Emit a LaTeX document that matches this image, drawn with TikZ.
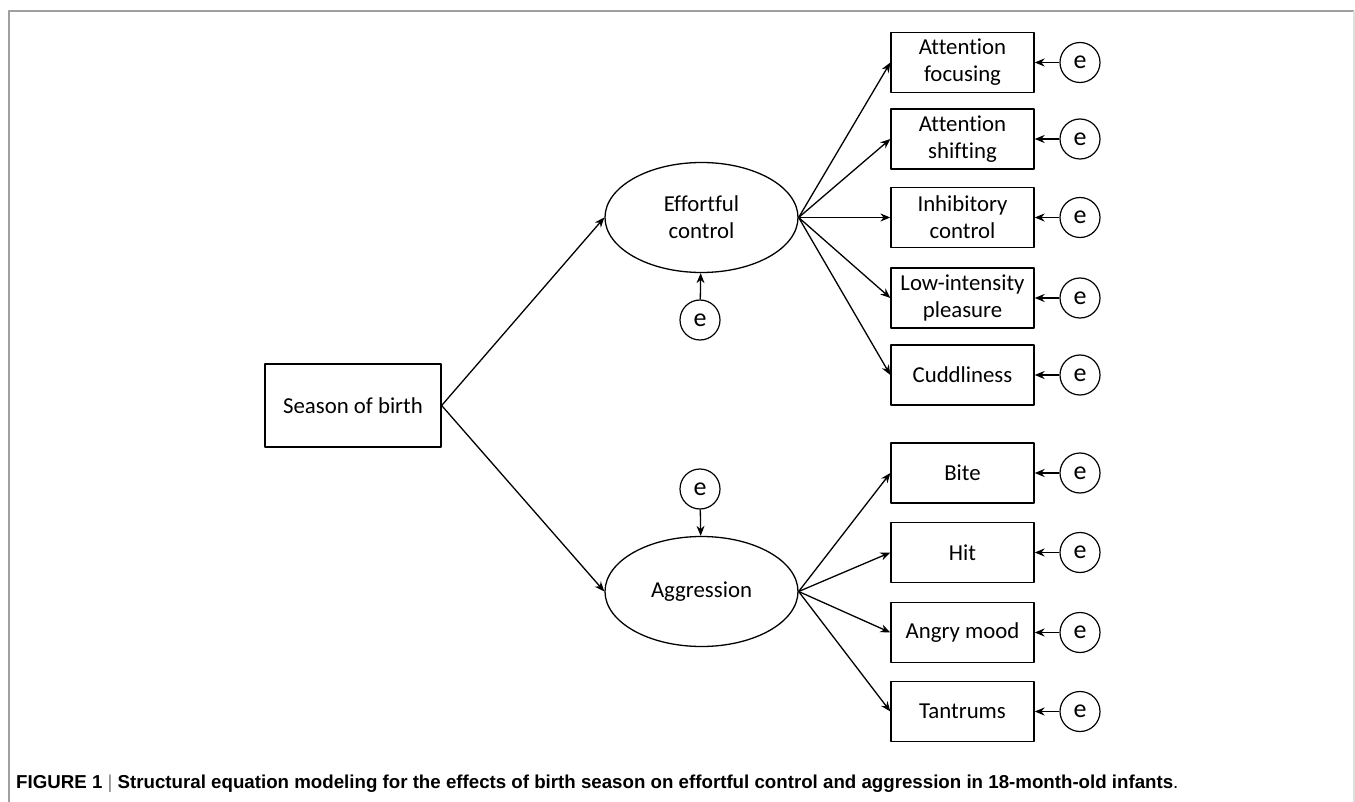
\documentclass[tikz,border=0pt]{standalone}
\usepackage{fontspec}
\setmainfont{Carlito}[Ligatures=NoCommon]
\newfontfamily\capfont{Liberation Sans}
\usetikzlibrary{shapes.geometric,arrows.meta}
\tikzset{
  box/.style={draw, line width=1.3pt, minimum width=143pt, minimum height=60pt, inner sep=0pt, align=center, font=\fontsize{22.8}{27}\selectfont},
  latent/.style={draw, ellipse, line width=1.3pt, minimum width=193pt, minimum height=110pt, inner sep=0pt, align=center, font=\fontsize{22.8}{27}\selectfont},
  err/.style={draw, circle, line width=1.2pt, minimum size=40pt, inner sep=0pt, font=\fontsize{26}{28}\selectfont},
  path/.style={-{Stealth[length=10pt,width=8pt]}, line width=1.3pt}
}
\begin{document}
\begin{tikzpicture}[x=1pt, y=-1pt, line join=round]
\useasboundingbox (0,0) rectangle (1355,802);
% frame
\draw[gray!75, line width=1.5pt] (9,802) -- (9,11) -- (1354,11);
\draw[gray!25, line width=1.5pt] (1354,11) -- (1354,802);
% exogenous and latent variables
\node[box, minimum width=176pt, minimum height=83pt] (sob) at (353,405.5) {Season of birth};
\node[latent] (efc) at (701.5,217.5) {Effortful\\control};
\node[latent] (agg) at (701.5,591.5) {Aggression};
\node[err] (eefc) at (700,320) {e};
\node[err] (eagg) at (700,489) {e};
\draw[path] (sob.east) -- (efc.west);
\draw[path] (sob.east) -- (agg.west);
\draw[path] (eefc) -- (efc);
\draw[path] (eagg) -- (agg);
% indicators of effortful control
\foreach \y/\t [count=\i] in {62.5/{Attention\\focusing}, 139/{Attention\\shifting}, 217.5/{Inhibitory\\control}, 298/{Low-intensity\\pleasure}, 375/{Cuddliness}} {
  \node[box] (ec\i) at (962.5,\y) {\t};
  \node[err] (eec\i) at (1080,\y) {e};
  \draw[path] (efc.east) -- (ec\i.west);
  \draw[path] (eec\i) -- (ec\i);
}
% indicators of aggression
\foreach \y/\t [count=\i] in {473/{Bite}, 552.5/{Hit}, 632.5/{Angry mood}, 711.5/{Tantrums}} {
  \node[box] (ag\i) at (962.5,\y) {\t};
  \node[err] (eag\i) at (1080,\y) {e};
  \draw[path] (agg.east) -- (ag\i.west);
  \draw[path] (eag\i) -- (ag\i);
}
% caption
\node[anchor=base west, inner sep=0pt, font=\capfont\bfseries\fontsize{18.7}{21}\selectfont] (cap) at (16,788)
  {FIGURE 1 {\mdseries\color{gray}\textbar} Structural equation modeling for the effects of birth season on effortful control and aggression in 18-month-old infants{\mdseries .}};
\end{tikzpicture}
\end{document}
